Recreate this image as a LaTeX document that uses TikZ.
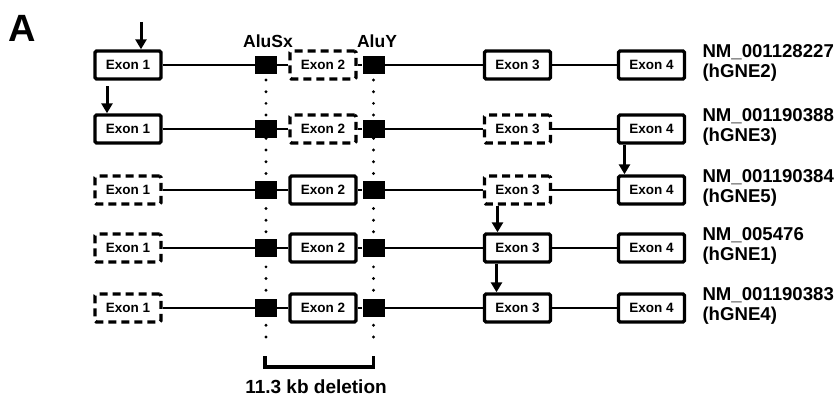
\documentclass[tikz,border=0pt]{standalone}
\usepackage{fontspec}
\setmainfont{Liberation Sans}
\usetikzlibrary{arrows.meta,calc}

\tikzset{
  exon/.style={draw, line width=3.4pt, rounded corners=1.5pt, minimum width=66pt,
    minimum height=28pt, inner sep=0pt, font=\fontsize{13.5}{15}\selectfont\bfseries},
  exonoff/.style={exon, dash pattern=on 8pt off 5pt},
  alu/.style={fill=black, minimum width=22pt, minimum height=18pt, inner sep=0pt},
  intron/.style={line width=2.8pt},
  hit/.style={-{Triangle[width=11pt,length=10pt]}, line width=3pt},
  aludots/.style={line width=3.2pt, line cap=round, dash pattern=on 0pt off 11.68pt},
  tag/.style={anchor=west, align=left, font=\fontsize{18.6}{20}\selectfont\bfseries},
}

\begin{document}
\begin{tikzpicture}[x=1pt, y=-1pt]
    \useasboundingbox (0,0) rectangle (837,396);

    % Panel letter
    \node[font=\fontsize{38}{38}\selectfont\bfseries] (panel) at (22,28) {A};

    % Alu elements and the deleted region
    \coordinate (sxtop) at (266,80);
    \coordinate (sxbot) at (266,337);
    \coordinate (aytop) at (373.5,80);
    \coordinate (aybot) at (373.5,337);
    \draw[aludots] (sxtop) -- (sxbot);
    \draw[aludots] (aytop) -- (aybot);
    \node[font=\fontsize{17.5}{17.5}\selectfont\bfseries] (alusx) at (268,41) {AluSx};
    \node[font=\fontsize{17.5}{17.5}\selectfont\bfseries] (aluy) at (377,41) {AluY};

    % Transcripts
    \foreach \r/\y/\sa/\sb/\sc/\nm/\hg in {
        1/65/exon/exonoff/exon/001128227/hGNE2,
        2/129/exon/exonoff/exonoff/001190388/hGNE3,
        3/190/exonoff/exon/exonoff/001190384/hGNE5,
        4/248/exonoff/exon/exon/005476/hGNE1,
        5/308/exonoff/exon/exon/001190383/hGNE4}{
        \node[\sa] (e\r1) at (128,\y) {Exon 1};
        \node[alu] (sx\r) at (266,\y) {};
        \node[\sb] (e\r2) at (323,\y) {Exon 2};
        \node[alu] (ay\r) at (373.5,\y) {};
        \node[\sc] (e\r3) at (517.5,\y) {Exon 3};
        \node[exon] (e\r4) at (651.5,\y) {Exon 4};
        \draw[intron] (e\r1.east) -- (sx\r.west);
        \draw[intron] (sx\r.east) -- (e\r2.west);
        \draw[intron] (e\r2.east) -- (ay\r.west);
        \draw[intron] (ay\r.east) -- (e\r3.west);
        \draw[intron] (e\r3.east) -- (e\r4.west);
        \node[tag] (nm\r) at (699,\y-2) {NM\_\nm\\(\hg)};
    }

    % Start sites
    \coordinate (st1) at (141,22);
    \coordinate (st2) at (107,86);
    \draw[hit] (st1) -- (st1 |- e11.north);
    \draw[hit] (st2) -- (st2 |- e21.north);
    \draw[hit] ([xshift=-27pt]e24.south) -- ([xshift=-27pt]e34.north);
    \draw[hit] ([xshift=-20pt]e33.south) -- ([xshift=-20pt]e43.north);
    \draw[hit] ([xshift=-21pt]e43.south) -- ([xshift=-21pt]e53.north);

    % Deletion bracket
    \coordinate (brl) at (265,356);
    \coordinate (brr) at (373.5,356);
    \draw[line width=3.4pt] (brl) -- ++(0,11) -| (brr);
    \node[font=\fontsize{19}{19}\selectfont\bfseries, inner sep=0pt, anchor=base] (del) at (316,393) {11.3 kb deletion};
\end{tikzpicture}
\end{document}
